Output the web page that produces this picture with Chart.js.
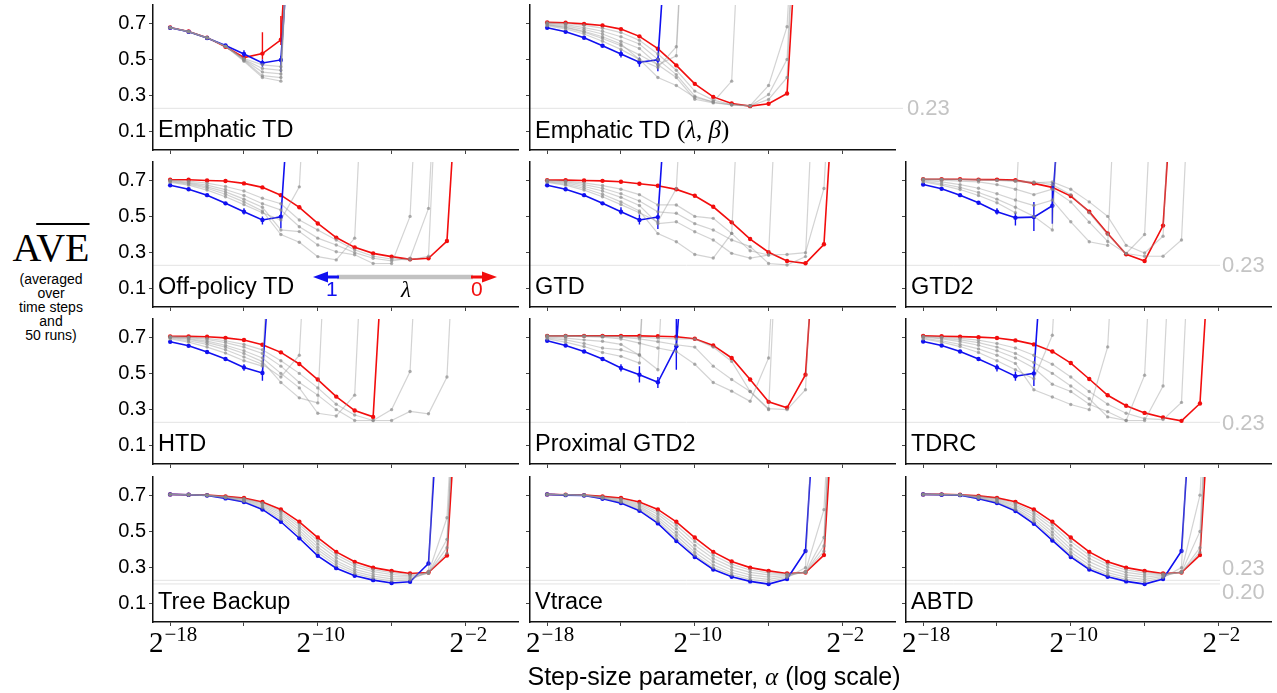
<!DOCTYPE html>
<html><head><meta charset="utf-8">
<script src="https://cdn.jsdelivr.net/npm/chart.js@4.4.0/dist/chart.umd.min.js"></script>
<style>
body{margin:0;background:#fff;}
#fig{position:relative;width:1277px;height:693px;overflow:hidden;background:#fff;font-family:"Liberation Sans",Arial,Helvetica,sans-serif;}
#fig canvas{position:absolute;}
.t{position:absolute;white-space:nowrap;color:#000;line-height:1;}
.serif{font-family:"Liberation Serif","DejaVu Serif",serif;}
</style></head><body><div id="fig"></div>
<script>
// ---------------- DATA ----------------
// x values are step sizes alpha = 2^k, k = firstExp, firstExp+1, ...
const firstExp = -18;
const xTickExps = [-18, -14, -10, -6, -2];
const xLabelExps = [-18, -10, -2];
const yTicks = [0.1, 0.3, 0.5, 0.7];
const refBest = 0.23;
const refBestLow = 0.21;

// Emphatic TD
const etdRed  = [0.676,0.654,0.62,0.57,0.51,0.532,0.608,2.3];
const etdBlue = [0.674,0.652,0.618,0.577,0.530,0.480,0.497,2.0];
const etdGray = [
 [0.675,0.653,0.619,0.572,0.505,0.47,0.46,2.4],
 [0.675,0.653,0.619,0.572,0.50,0.45,0.44,2.4],
 [0.675,0.653,0.619,0.572,0.498,0.43,0.42,2.4],
 [0.675,0.653,0.619,0.572,0.495,0.41,0.40,2.4],
 [0.675,0.653,0.619,0.572,0.49,0.40,0.38,2.4]];
const etdBlueErr = [[-14,0.51,0.55],[-13,0.46,0.50],[-12,0.43,0.52]];
const etdRedErr  = [[-13,0.50,0.65],[-12,0.58,0.74]];

// Emphatic TD (lambda, beta)
const etdlbRed  = [0.704,0.702,0.696,0.687,0.667,0.627,0.559,0.467,0.365,0.293,0.257,0.242,0.255,0.312,2.0];
const etdlbBlue = [0.674,0.652,0.619,0.575,0.530,0.484,0.498,2.0];
const etdlbGray = [
 [0.685,0.668,0.64,0.60,0.555,0.50,0.455,0.57,2.5],
 [0.69,0.675,0.65,0.615,0.575,0.525,0.47,0.52,2.5],
 [0.69,0.678,0.655,0.625,0.585,0.50,0.40,0.356,0.29,0.265,0.38,2.5],
 [0.695,0.685,0.665,0.64,0.60,0.56,0.47,0.40,0.28,0.26,0.25,0.245,0.356,0.68,2.5],
 [0.70,0.692,0.675,0.655,0.625,0.585,0.50,0.416,0.297,0.265,0.248,0.243,0.306,0.50,2.5],
 [0.703,0.698,0.688,0.672,0.648,0.605,0.53,0.44,0.325,0.275,0.25,0.243,0.279,0.40,2.5]];
const etdlbBlueErr = [[-14,0.51,0.55],[-13,0.46,0.51],[-12,0.435,0.50]];

// Off-policy TD
const optdRed  = [0.702,0.702,0.698,0.695,0.682,0.66,0.617,0.55,0.461,0.383,0.329,0.296,0.278,0.263,0.269,0.364,2.0];
const optdBlue = [0.672,0.65,0.617,0.572,0.526,0.48,0.498,2.0];
const optdGray = [
 [0.688,0.672,0.645,0.608,0.565,0.52,0.48,0.663,2.5],
 [0.692,0.678,0.655,0.622,0.58,0.53,0.40,0.357,0.278,0.26,0.38,2.5],
 [0.695,0.683,0.663,0.635,0.595,0.55,0.425,0.416,0.342,0.305,0.288,0.24,0.24,0.50,2.5],
 [0.698,0.688,0.672,0.648,0.615,0.57,0.535,0.443,0.38,0.342,0.30,0.269,0.255,0.269,0.544,2.5],
 [0.70,0.694,0.683,0.665,0.64,0.60,0.57,0.48,0.425,0.37,0.315,0.28,0.265,0.26,0.28,2.5]];
const optdBlueErr = [[-14,0.51,0.545],[-13,0.455,0.50],[-12,0.435,0.50]];

// GTD
const gtdRed  = [0.70,0.70,0.698,0.696,0.691,0.68,0.669,0.649,0.614,0.553,0.467,0.375,0.302,0.254,0.241,0.346,2.0];
const gtdBlue = [0.672,0.65,0.617,0.572,0.526,0.48,0.496,2.0];
const gtdGray = [
 [0.688,0.672,0.645,0.608,0.565,0.52,0.47,0.654,2.5],
 [0.692,0.678,0.655,0.622,0.58,0.53,0.405,0.36,0.29,0.27,0.406,2.5],
 [0.695,0.685,0.665,0.64,0.605,0.56,0.46,0.47,0.415,0.37,0.296,0.27,0.287,2.5],
 [0.698,0.69,0.675,0.655,0.625,0.585,0.525,0.517,0.46,0.425,0.37,0.333,0.24,0.232,0.278,2.5],
 [0.70,0.695,0.685,0.67,0.65,0.62,0.563,0.563,0.50,0.489,0.406,0.31,0.287,0.29,0.30,0.654,2.5]];
const gtdBlueErr = [[-14,0.51,0.55],[-13,0.455,0.51],[-12,0.43,0.50]];

// GTD2
const gtd2Red  = [0.705,0.705,0.705,0.703,0.703,0.70,0.682,0.66,0.612,0.526,0.406,0.291,0.254,0.449,2.0];
const gtd2Blue = [0.676,0.652,0.617,0.575,0.526,0.493,0.496,0.559,2.0];
const gtd2Gray = [
 [0.69,0.672,0.648,0.615,0.575,0.52,2.5],
 [0.695,0.68,0.66,0.632,0.595,0.55,0.50,0.425,2.5],
 [0.70,0.69,0.675,0.655,0.625,0.59,0.56,0.59,0.47,0.36,0.34,2.5],
 [0.703,0.70,0.695,0.69,0.675,0.65,0.62,0.65,0.58,0.468,0.362,0.295,0.40,2.5],
 [0.705,0.704,0.703,0.70,0.698,0.693,0.685,0.69,0.65,0.58,0.50,0.34,0.298,0.39,2.5],
 [0.706,0.705,0.704,0.702,0.70,0.697,0.69,0.675,0.62,0.52,0.40,0.295,0.28,0.28,0.37,2.5]];
const gtd2BlueErr = [[-14,0.51,0.545],[-13,0.45,0.52],[-12,0.42,0.58],[-11,0.46,0.69]];

// HTD
const htdRed  = [0.704,0.704,0.702,0.696,0.684,0.658,0.616,0.552,0.466,0.372,0.295,0.26,2.0];
const htdBlue = [0.674,0.652,0.618,0.579,0.533,0.502,2.0];
const htdGray = [
 [0.69,0.672,0.645,0.612,0.57,0.54,2.5],
 [0.695,0.68,0.66,0.63,0.59,0.55,0.48,0.60,2.5],
 [0.698,0.688,0.67,0.645,0.61,0.565,0.45,0.365,0.337,2.5],
 [0.70,0.692,0.678,0.655,0.625,0.585,0.50,0.42,0.28,0.265,0.38,2.5],
 [0.702,0.697,0.687,0.67,0.645,0.61,0.54,0.45,0.38,0.30,0.24,0.24,0.30,0.51,2.5],
 [0.703,0.70,0.693,0.68,0.66,0.63,0.57,0.50,0.42,0.33,0.27,0.24,0.24,0.29,0.277,0.48,2.5]];
const htdBlueErr = [[-14,0.515,0.55],[-13,0.46,0.52]];

// Proximal GTD2
const pgtd2Red  = [0.707,0.707,0.707,0.707,0.707,0.707,0.705,0.702,0.691,0.654,0.585,0.466,0.343,0.31,0.493,2.0];
const pgtd2Blue = [0.68,0.654,0.621,0.579,0.53,0.493,0.451,0.649,2.0];
const pgtd2Gray = [
 [0.69,0.672,0.648,0.615,0.594,0.557,2.5],
 [0.695,0.685,0.665,0.64,0.63,0.603,2.5],
 [0.70,0.695,0.685,0.677,0.66,0.60,0.52,2.5],
 [0.706,0.705,0.703,0.70,0.69,0.667,0.64,0.62,0.55,0.45,0.402,0.346,0.585,2.5],
 [0.707,0.706,0.705,0.704,0.70,0.69,0.675,0.658,0.645,0.54,0.466,0.40,0.30,2.5],
 [0.707,0.707,0.706,0.705,0.704,0.70,0.695,0.69,0.69,0.645,0.566,0.40,0.305,0.30,0.41,2.5]];
const pgtd2BlueErr = [[-14,0.51,0.55],[-13,0.45,0.54],[-12,0.42,0.48],[-11,0.52,0.8]];

// TDRC
const tdrcRed  = [0.707,0.705,0.703,0.70,0.695,0.682,0.66,0.621,0.557,0.469,0.379,0.321,0.282,0.257,0.238,0.334,2.0];
const tdrcBlue = [0.676,0.654,0.621,0.579,0.533,0.484,0.50,2.0];
const tdrcGray = [
 [0.69,0.672,0.648,0.615,0.57,0.52,0.47,0.71,2.5],
 [0.695,0.68,0.66,0.635,0.60,0.555,0.41,0.37,0.328,0.30,0.646,2.5],
 [0.70,0.69,0.675,0.655,0.625,0.585,0.53,0.44,0.40,0.33,0.288,0.24,0.49,2.5],
 [0.703,0.695,0.685,0.67,0.645,0.61,0.56,0.50,0.43,0.36,0.26,0.24,0.24,0.43,2.5],
 [0.705,0.70,0.693,0.683,0.665,0.64,0.60,0.55,0.48,0.40,0.33,0.28,0.25,0.245,0.34,2.5]];
const tdrcBlueErr = [[-14,0.51,0.55],[-13,0.46,0.51],[-12,0.43,0.50]];

// Tree Backup
const tbRed  = [0.704,0.702,0.70,0.693,0.684,0.662,0.621,0.553,0.466,0.387,0.332,0.30,0.282,0.268,0.273,0.367,2.0];
const tbBlue = [0.704,0.702,0.698,0.682,0.662,0.621,0.553,0.462,0.365,0.297,0.255,0.231,0.215,0.222,0.323,2.0];
const tbGray = [
 [0.704,0.702,0.698,0.685,0.666,0.63,0.566,0.478,0.383,0.312,0.267,0.242,0.227,0.232,0.28,2.5],
 [0.704,0.702,0.699,0.687,0.671,0.637,0.578,0.493,0.398,0.325,0.278,0.253,0.238,0.24,0.27,0.575,2.5],
 [0.704,0.702,0.699,0.689,0.675,0.644,0.59,0.507,0.413,0.338,0.29,0.265,0.25,0.248,0.27,0.456,2.5],
 [0.704,0.702,0.70,0.69,0.678,0.651,0.601,0.522,0.43,0.355,0.305,0.278,0.262,0.255,0.27,0.41,2.5],
 [0.704,0.702,0.70,0.692,0.681,0.657,0.611,0.537,0.448,0.371,0.318,0.289,0.272,0.262,0.272,0.38,2.5]];

// Vtrace
const vtRed  = [0.704,0.702,0.70,0.693,0.684,0.662,0.621,0.553,0.466,0.387,0.334,0.30,0.282,0.268,0.273,0.369,2.0];
const vtBlue = [0.704,0.70,0.698,0.68,0.656,0.614,0.544,0.447,0.359,0.29,0.25,0.224,0.209,0.237,0.392,2.0];
const vtGray = [
 [0.704,0.701,0.698,0.683,0.661,0.622,0.555,0.46,0.37,0.30,0.26,0.235,0.222,0.245,0.30,2.5],
 [0.704,0.701,0.699,0.685,0.666,0.63,0.567,0.477,0.385,0.315,0.272,0.247,0.235,0.252,0.28,0.62,2.5],
 [0.704,0.702,0.699,0.687,0.671,0.638,0.58,0.495,0.403,0.333,0.287,0.26,0.248,0.258,0.275,0.466,2.5],
 [0.704,0.702,0.70,0.689,0.676,0.646,0.594,0.515,0.423,0.35,0.303,0.274,0.26,0.262,0.273,0.42,2.5],
 [0.704,0.702,0.70,0.691,0.68,0.654,0.607,0.534,0.444,0.368,0.318,0.287,0.271,0.265,0.273,0.39,2.5]];

// ABTD
const abtdRed  = [0.704,0.704,0.702,0.696,0.685,0.663,0.621,0.553,0.466,0.387,0.332,0.30,0.282,0.268,0.273,0.369,2.0];
const abtdBlue = [0.704,0.702,0.70,0.68,0.656,0.612,0.542,0.45,0.359,0.29,0.25,0.224,0.209,0.237,0.392,2.0];
const abtdGray = [
 [0.704,0.703,0.70,0.683,0.661,0.62,0.553,0.463,0.37,0.30,0.26,0.235,0.222,0.245,0.30,2.5],
 [0.704,0.703,0.701,0.686,0.666,0.628,0.566,0.48,0.385,0.315,0.272,0.247,0.235,0.252,0.28,0.70,2.5],
 [0.704,0.703,0.701,0.689,0.671,0.637,0.58,0.497,0.403,0.333,0.287,0.26,0.248,0.258,0.275,0.50,2.5],
 [0.704,0.704,0.702,0.692,0.676,0.645,0.594,0.516,0.423,0.35,0.303,0.274,0.26,0.262,0.273,0.41,2.5],
 [0.704,0.704,0.702,0.694,0.681,0.654,0.607,0.535,0.444,0.368,0.318,0.287,0.271,0.265,0.273,0.385,2.5]];

// ---------------- LAYOUT / STYLE ----------------
const FIG = document.getElementById('fig');
const PW = 365, PH = 145;
const colLeft = [153, 530, 906];
const rowTop = [5, 162, 319, 477];
const XMIN = Math.pow(2, -18.93), XMAX = Math.pow(2, 0.85);
const SANS = '"Liberation Sans", Arial, Helvetica, sans-serif';
const RED = '#f20d0d', BLUE = '#1010f0';
const GRAY_LINE = 'rgba(150,150,150,0.42)', GRAY_PT = 'rgba(135,135,135,0.65)';
const REF_COLOR = '#e3e3e3';

const panels = [
 {row:0,col:0,title:'Emphatic TD',red:etdRed,blue:etdBlue,gray:etdGray,blueErr:etdBlueErr,redErr:etdRedErr},
 {row:0,col:1,title:'Emphatic TD <span class="serif" style="font-size:25px">(<i>λ</i>, <i>β</i>)</span>',red:etdlbRed,blue:etdlbBlue,gray:etdlbGray,blueErr:etdlbBlueErr,redErr:[]},
 {row:1,col:0,title:'Off-policy TD',red:optdRed,blue:optdBlue,gray:optdGray,blueErr:optdBlueErr,redErr:[],arrow:true},
 {row:1,col:1,title:'GTD',red:gtdRed,blue:gtdBlue,gray:gtdGray,blueErr:gtdBlueErr,redErr:[]},
 {row:1,col:2,title:'GTD2',red:gtd2Red,blue:gtd2Blue,gray:gtd2Gray,blueErr:gtd2BlueErr,redErr:[]},
 {row:2,col:0,title:'HTD',red:htdRed,blue:htdBlue,gray:htdGray,blueErr:htdBlueErr,redErr:[]},
 {row:2,col:1,title:'Proximal GTD2',red:pgtd2Red,blue:pgtd2Blue,gray:pgtd2Gray,blueErr:pgtd2BlueErr,redErr:[]},
 {row:2,col:2,title:'TDRC',red:tdrcRed,blue:tdrcBlue,gray:tdrcGray,blueErr:tdrcBlueErr,redErr:[]},
 {row:3,col:0,title:'Tree Backup',red:tbRed,blue:tbBlue,gray:tbGray,blueErr:[],redErr:[]},
 {row:3,col:1,title:'Vtrace',red:vtRed,blue:vtBlue,gray:vtGray,blueErr:[],redErr:[]},
 {row:3,col:2,title:'ABTD',red:abtdRed,blue:abtdBlue,gray:abtdGray,blueErr:[],redErr:[]}
];

function series(vals){ return vals.map((v,i)=>({x:Math.pow(2, firstExp+i), y:v})); }
function errSeries(errs){
  const out=[];
  errs.forEach(([e,lo,hi])=>{ const x=Math.pow(2,e); out.push({x:x,y:lo},{x:x,y:hi},{x:x,y:null}); });
  return out;
}
function addText(html, left, top, style){
  const d=document.createElement('div'); d.className='t'; d.innerHTML=html;
  d.style.left=left+'px'; d.style.top=top+'px';
  if(style) d.setAttribute('style', d.getAttribute('style')+';'+style);
  FIG.appendChild(d); return d;
}
function makeCanvas(left, top, w, h){
  const cv=document.createElement('canvas');
  cv.width=w; cv.height=h;
  cv.style.left=left+'px'; cv.style.top=top+'px'; cv.style.width=w+'px'; cv.style.height=h+'px';
  FIG.appendChild(cv); return cv;
}

// ---- background reference lines (best performance levels), one chart per row ----
const refRows = [
 {row:0, end:903, values:[refBest]},
 {row:1, end:1220, values:[refBest]},
 {row:2, end:1220, values:[refBest]},
 {row:3, end:1220, values:[refBest, refBestLow]}
];
refRows.forEach(r=>{
  const cv = makeCanvas(colLeft[0], rowTop[r.row], r.end-colLeft[0], PH);
  new Chart(cv, {
    type:'line',
    data:{datasets:r.values.map(v=>({data:[{x:0,y:v},{x:1,y:v}],borderColor:REF_COLOR,borderWidth:1,pointRadius:0}))},
    options:{responsive:false,animation:false,devicePixelRatio:1,layout:{padding:0},
      plugins:{legend:{display:false},tooltip:{enabled:false}},
      scales:{x:{type:'linear',min:0,max:1,display:false},y:{min:0,max:0.8,display:false}}}
  });
});

// ---- panels ----
panels.forEach(p=>{
  const padL = p.col===0 ? 62 : 12, padR = 4, padT = 15, padB = 9, padBot = 8;
  const w = padL+PW+padR, h = padT+PH+padB+padBot;
  const cLeft = colLeft[p.col]-padL, cTop = rowTop[p.row]-padT;
  const cv = makeCanvas(cLeft, cTop, w, h);
  const ds = [];
  p.gray.forEach(g=>ds.push({data:series(g),borderColor:GRAY_LINE,borderWidth:1.2,pointRadius:1.7,pointBackgroundColor:GRAY_PT,pointBorderWidth:0}));
  ds.push({data:series(p.blue),borderColor:BLUE,borderWidth:1.6,pointRadius:2.2,pointBackgroundColor:BLUE,pointBorderWidth:0});
  if(p.blueErr.length) ds.push({data:errSeries(p.blueErr),borderColor:BLUE,borderWidth:1.4,pointRadius:0,spanGaps:false});
  ds.push({data:series(p.red),borderColor:RED,borderWidth:1.6,pointRadius:2.2,pointBackgroundColor:RED,pointBorderWidth:0});
  if(p.redErr.length) ds.push({data:errSeries(p.redErr),borderColor:RED,borderWidth:1.4,pointRadius:0,spanGaps:false});
  const axisGrid = {drawOnChartArea:false,drawTicks:true,tickLength:4,color:'#444',lineWidth:1};
  const axisBorder = {display:true,color:'#111',width:1.5};
  const chart = new Chart(cv, {
    type:'line',
    data:{datasets:ds},
    options:{
      responsive:false,animation:false,devicePixelRatio:1,
      elements:{line:{tension:0}},
      layout:{padding:{top:padT,right:padR,left:0,bottom:padBot}},
      plugins:{legend:{display:false},tooltip:{enabled:false}},
      scales:{
        x:{type:'logarithmic',min:XMIN,max:XMAX,bounds:'data',
           afterBuildTicks:s=>{s.ticks=xTickExps.map(e=>({value:Math.pow(2,e)}));},
           ticks:{display:false},grid:axisGrid,border:axisBorder,
           afterFit:s=>{s.height=padB;}},
        y:{type:'linear',min:0,max:0.8,bounds:'data',
           afterBuildTicks:s=>{s.ticks=yTicks.map(v=>({value:v}));},
           ticks:{display:p.col===0,color:'#000',padding:3,font:{family:SANS,size:20},callback:v=>Number(v).toFixed(1)},
           grid:axisGrid,border:axisBorder,
           afterFit:s=>{s.width=padL;}}
      }
    }
  });
  // panel title
  const bottom = rowTop[p.row]+PH;
  addText(p.title, colLeft[p.col]+5, bottom-32, 'font-size:23.5px;line-height:23px');
  // x tick labels on bottom row: 2^k
  if(p.row===3){
    xLabelExps.forEach(e=>{
      const px = cLeft + chart.scales.x.getPixelForValue(Math.pow(2,e));
      const d = addText('2<span style="font-size:21px;position:relative;top:-11px;margin-left:1px">−'+Math.abs(e)+'</span>', px+3, 628, 'font-size:29px;line-height:29px;transform:translateX(-50%)');
      d.classList.add('serif');
    });
  }
  if(p.arrow){
    // lambda direction legend drawn on the Off-policy TD chart
    const ctx = chart.ctx, ca = chart.chartArea;
    const y = ca.top + 115, xl = ca.left + 160, xr = ca.left + 344;
    ctx.save();
    ctx.lineCap='butt';
    ctx.strokeStyle='#c2c2c2'; ctx.lineWidth=4.5;
    ctx.beginPath(); ctx.moveTo(xl+24,y); ctx.lineTo(xr-24,y); ctx.stroke();
    ctx.strokeStyle=BLUE; ctx.lineWidth=3;
    ctx.beginPath(); ctx.moveTo(xl+12,y); ctx.lineTo(xl+26,y); ctx.stroke();
    ctx.fillStyle=BLUE; ctx.beginPath(); ctx.moveTo(xl,y); ctx.lineTo(xl+15,y-5.5); ctx.lineTo(xl+15,y+5.5); ctx.closePath(); ctx.fill();
    ctx.strokeStyle=RED;
    ctx.beginPath(); ctx.moveTo(xr-26,y); ctx.lineTo(xr-12,y); ctx.stroke();
    ctx.fillStyle=RED; ctx.beginPath(); ctx.moveTo(xr,y); ctx.lineTo(xr-15,y-5.5); ctx.lineTo(xr-15,y+5.5); ctx.closePath(); ctx.fill();
    ctx.restore();
    addText('1', 326, 278, 'font-size:21px;color:'+BLUE);
    addText('<i>λ</i>', 401, 278, 'font-size:23px').classList.add('serif');
    addText('0', 471, 278, 'font-size:21px;color:'+RED);
  }
});

// ---- reference value labels ----
const refLabStyle = 'font-size:22px;color:#c4c4c4';
addText('0.23', 907, 97, refLabStyle);
addText('0.23', 1222, 254, refLabStyle);
addText('0.23', 1222, 412, refLabStyle);
addText('0.23', 1222, 557, refLabStyle);
addText('0.20', 1222, 581, refLabStyle);

// ---- axis titles ----
addText('Step-size parameter, <span class="serif"><i>α</i></span> (log scale)', 714, 664, 'font-size:25px;transform:translateX(-50%)');
addText('A<span style="text-decoration:overline;text-decoration-thickness:2px">VE</span>', 51, 228, 'font-size:40px;transform:translateX(-50%)').classList.add('serif');
addText('(averaged<br>over<br>time steps<br>and<br>50 runs)', 51, 272, 'font-size:14px;line-height:14px;text-align:center;transform:translateX(-50%)');
</script>
</body></html>
